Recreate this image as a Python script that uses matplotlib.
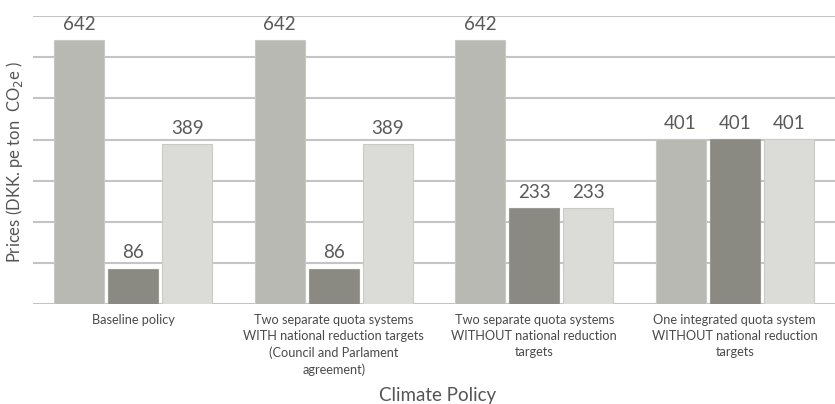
import numpy as np
import matplotlib.pyplot as plt

plt.rcParams['font.family'] = ['Lato', 'DejaVu Sans']

# Data
categories = [
    "Baseline policy",
    "Two separate quota systems\nWITH national reduction targets\n(Council and Parlament\nagreement)",
    "Two separate quota systems\nWITHOUT national reduction\ntargets",
    "One integrated quota system\nWITHOUT national reduction\ntargets",
]
series_a = [642, 642, 642, 401]
series_b = [86, 86, 233, 401]
series_c = [389, 389, 233, 401]

colors = ['#b9b9b4', '#8a8a82', '#dbdbd8']
edges = ['#c8c8c4', '#9a9a93', '#c9c9c6']

fig = plt.figure(figsize=(8.35, 4.04), dpi=100)
ax = fig.add_axes([0.0395, 0.2475, 0.9605, 0.7125])

x = np.arange(len(categories))
step = 0.27
width = 0.25
for i, vals in enumerate([series_a, series_b, series_c]):
    bars = ax.bar(x + (i - 1) * step, vals, width, color=colors[i],
                  edgecolor=edges[i], linewidth=0.8, zorder=3)
    for b, v in zip(bars, vals):
        ax.text(b.get_x() + b.get_width() / 2, v + 18, str(v),
                ha='center', va='bottom', fontsize=13.5, color='#5a5a5a', zorder=4)

ax.set_xlim(-0.5, 3.5)
ax.set_ylim(0, 700)
ax.set_yticks(np.arange(0, 701, 100))
ax.yaxis.grid(True, color='#c4c4c4', linewidth=1.5, zorder=0)
ax.set_yticklabels([])
ax.tick_params(axis='both', length=0)
for s in ax.spines.values():
    s.set_visible(False)
ax.set_xticks(x)
ax.set_xticklabels(categories, fontsize=9.2, color='#4a4a4a', linespacing=1.42,
                   va='top')
ax.tick_params(axis='x', pad=7)

fig.text(15 / 835, 0.60, "Prices (DKK. pe ton  CO$_2$e )", rotation=90,
         ha='center', va='center', fontsize=12, color='#555555')
fig.text(0.524, 0.022, "Climate Policy", ha='center', va='center',
         fontsize=13.5, color='#555555')

fig.savefig('out.png', dpi=100)
